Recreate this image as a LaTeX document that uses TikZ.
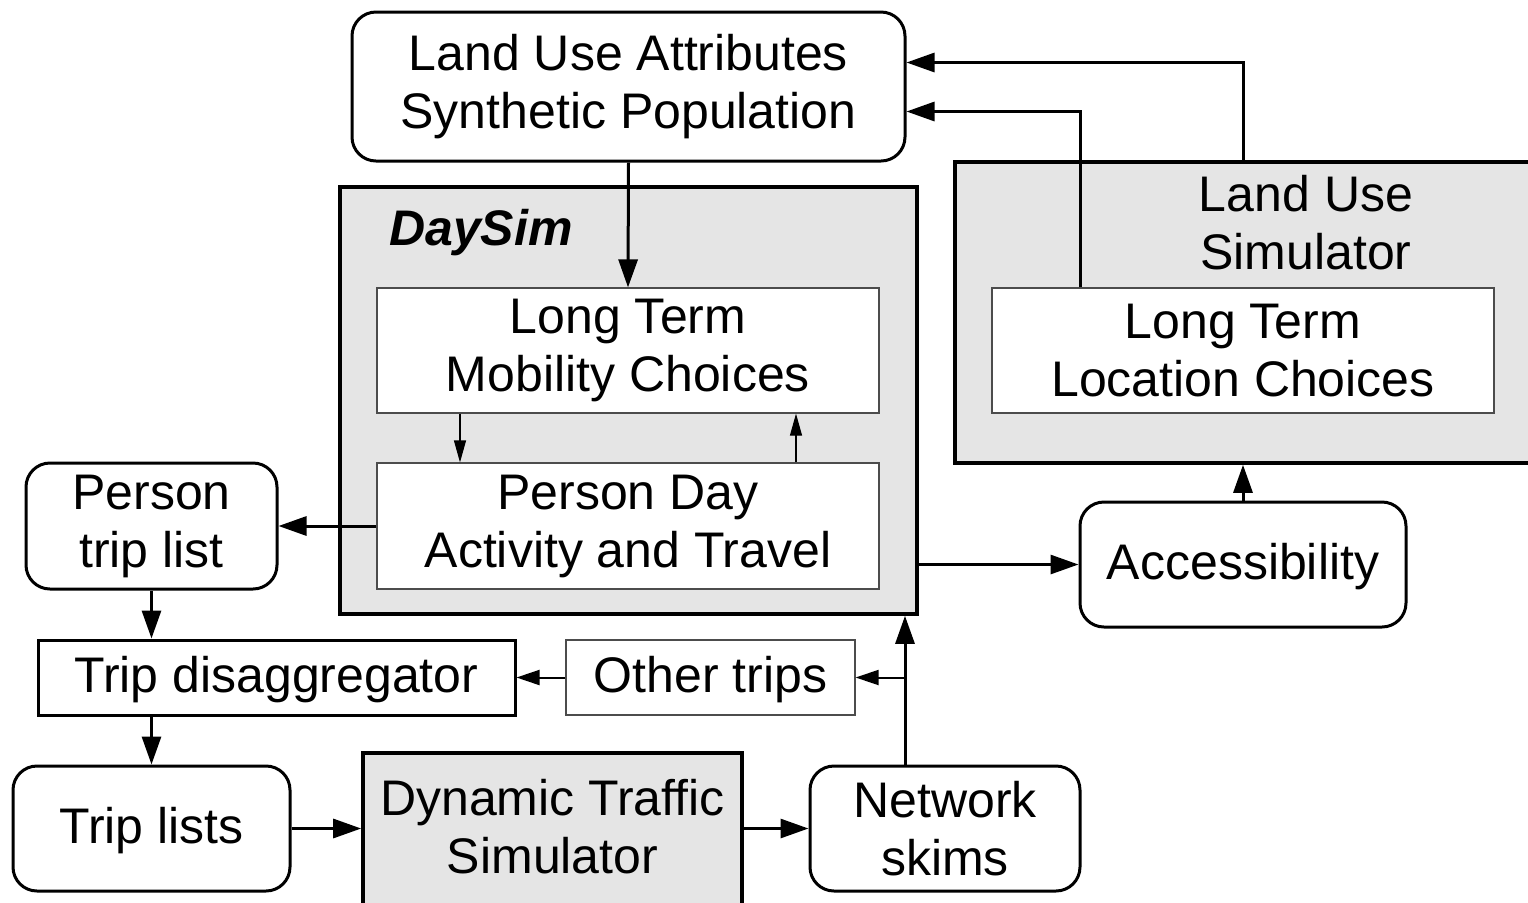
\documentclass[tikz,border=0pt]{standalone}
\usepackage{fontspec}
\setmainfont{Liberation Sans}
\usetikzlibrary{arrows.meta}
\definecolor{simgray}{RGB}{229,229,229}
\tikzset{
  every node/.style={font=\fontsize{25}{29}\selectfont, align=center, inner sep=0pt,
    execute at begin node={\rule{0pt}{20.2pt}}},
  roundbox/.style={draw, line width=1.5pt, rounded corners=12pt, fill=white},
  thinbox/.style={draw=black!70, line width=0.6pt, fill=white},
  simbox/.style={draw, line width=1.8pt, fill=simgray},
  plainbox/.style={draw, line width=1.5pt, fill=white},
  flow/.style={line width=1.5pt, -{Triangle[length=14pt,width=9.5pt]}},
  thinflow/.style={line width=0.6pt, -{Triangle[length=11pt,width=6pt]}},
  midflow/.style={line width=1pt, -{Triangle[length=11.5pt,width=7.5pt]}}
}
\begin{document}
\begin{tikzpicture}[x=0.5pt, y=-0.5pt]
	\useasboundingbox (0,0) rectangle (1528,902);
	\clip (0,0) rectangle (1528,902);
	% simulators
	\node[simbox, minimum width=288.5pt, minimum height=213.5pt] (daysim) at (628.5,400.5) {};
	\node[font=\fontsize{25}{29}\selectfont\bfseries\itshape] (daysimlabel) at (481,230) {DaySim};
	\node[simbox, minimum width=300pt, minimum height=150.5pt] (lus) at (1255,312.5) {};
	\node (luslabel) at (1306,223) {Land Use\\Simulator};
	\node[simbox, minimum width=189.5pt, minimum height=90pt] (dts) at (552.5,843) {};
	\node (dtslabel) at (552.5,827) {Dynamic Traffic\\Simulator};
	% boxes
	\node[roundbox, minimum width=276.5pt, minimum height=74.5pt] (lua) at (628.5,86.5) {Land Use Attributes\\Synthetic Population};
	\node[thinbox, minimum width=251pt, minimum height=62.5pt] (ltm) at (628,350.5) {Long Term\\Mobility Choices};
	\node[thinbox, minimum width=251pt, minimum height=63pt] (pdat) at (628,526) {Person Day\\Activity and Travel};
	\node[thinbox, minimum width=251pt, minimum height=62.5pt] (ltlc) at (1243,350.5) {Long Term\\Location Choices};
	\node[roundbox, minimum width=125.5pt, minimum height=63pt] (ptl) at (151.5,526) {Person\\trip list};
	\node[plainbox, minimum width=238.5pt, minimum height=37.5pt] (tdis) at (276.5,677.5) {Trip disaggregator};
	\node[thinbox, minimum width=144.5pt, minimum height=37.5pt] (oth) at (710.5,677.5) {Other trips};
	\node[roundbox, minimum width=138.5pt, minimum height=62.5pt] (trl) at (151.5,828.5) {Trip lists};
	\node[roundbox, minimum width=135pt, minimum height=62.5pt] (ntw) at (945,828.5) {Network\\skims};
	\node[roundbox, minimum width=163pt, minimum height=62.5pt] (acc) at (1243,564.5) {Accessibility};
	\coordinate (skim) at ([xshift=-20pt]ntw.north);
	\coordinate (ltlcout) at ([xshift=-81.5pt]ltlc.north);
	% connectors
	\draw[flow] (lua.south) -- (ltm.north);
	\draw[thinflow] ([xshift=-84pt]ltm.south) -- ([xshift=-84pt]pdat.north);
	\draw[thinflow] ([xshift=84pt]pdat.north) -- ([xshift=84pt]ltm.south);
	\draw[flow] (pdat.west) -- (ptl.east);
	\draw[flow] (ptl.south) -- (ptl.south |- tdis.north);
	\draw[flow] (trl.north |- tdis.south) -- (trl.north);
	\draw[flow] (trl.east) -- (dts.west |- trl.east);
	\draw[flow] (dts.east |- ntw.west) -- (ntw.west);
	\draw[flow] (skim) -- (skim |- daysim.south);
	\draw[midflow] (skim |- oth.east) -- (oth.east);
	\draw[midflow] (oth.west) -- (tdis.east);
	\draw[flow] (daysim.east |- acc.west) -- (acc.west);
	\draw[flow] (acc.north) -- (acc.north |- lus.south);
	\draw[flow] (acc.north |- lus.north) |- ([yshift=12pt]lua.east);
	\draw[flow] (ltlcout) |- ([yshift=-12.5pt]lua.east);
\end{tikzpicture}
\end{document}
